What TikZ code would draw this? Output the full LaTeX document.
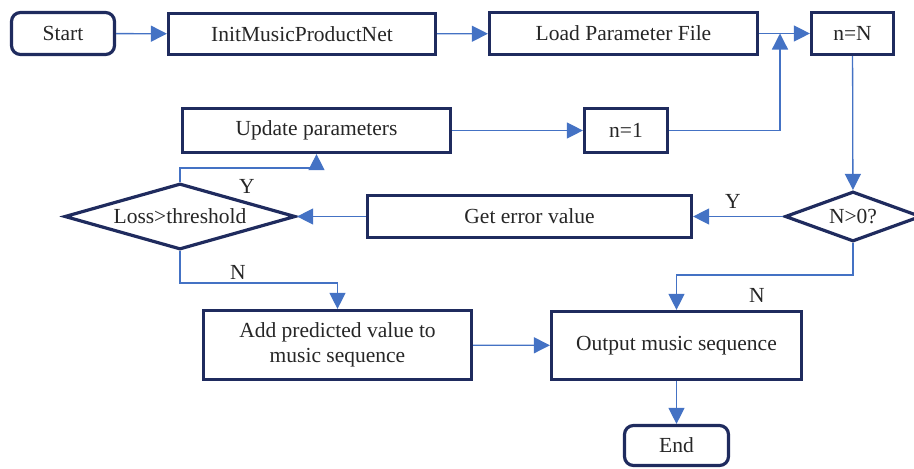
\documentclass[tikz,border=0pt]{standalone}
\usepackage{fontspec}
\setmainfont{Liberation Serif}
\usetikzlibrary{shapes.geometric,arrows.meta}
\definecolor{boxnavy}{HTML}{1F2B5E}
\definecolor{flowblue}{HTML}{4472C4}
\begin{document}
\begin{tikzpicture}[x=1pt,y=-1pt,
        font=\fontsize{21.5}{25}\selectfont,
        box/.style={draw=boxnavy,line width=3.2pt,inner sep=2pt,align=center,text=black!85},
        term/.style={box,rounded corners=9pt},
        decide/.style={diamond,draw=boxnavy,line width=3.2pt,inner sep=0pt,text=black!85},
        flow/.style={draw=flowblue,line width=1.3pt,-{Triangle[length=16pt,width=16pt]}},
        tag/.style={text=black!85}]
        \useasboundingbox (0,0) rectangle (914,469);
        % top row
        \node[term,minimum width=103pt,minimum height=42pt] (start) at (63,33.5) {Start};
        \node[box,minimum width=267pt,minimum height=41pt] (init) at (302,34) {InitMusicProductNet};
        \node[box,minimum width=268pt,minimum height=42pt] (load) at (623.5,33.5) {Load Parameter File};
        \node[box,minimum width=82pt,minimum height=42pt] (nN) at (852.5,33.5) {n=N};
        % loop row
        \node[box,minimum width=268pt,minimum height=44pt] (update) at (316.5,130.5) {Update parameters};
        \node[box,minimum width=83pt,minimum height=44pt] (n1) at (626,130.5) {n=1};
        % decisions
        \node[decide,aspect=3.5,minimum width=231pt,minimum height=66pt] (loss) at (180,216.5) {Loss>threshold};
        \node[box,minimum width=324pt,minimum height=42pt] (error) at (529.5,216.5) {Get error value};
        \node[decide,aspect=2.7,minimum width=136pt,minimum height=50pt] (npos) at (853,216.5) {N>0?};
        % bottom
        \node[box,minimum width=268pt,minimum height=69pt] (add) at (337.5,345) {Add predicted value to\\music sequence};
        \node[box,minimum width=250pt,minimum height=68pt] (output) at (676.5,345.5) {Output music sequence};
        \node[term,minimum width=104pt,minimum height=40pt] (end) at (676.5,445.5) {End};
        \coordinate (join) at (780,33.5);

        \draw[flow] (start) -- (init);
        \draw[flow] (init) -- (load);
        \draw[flow] (load) -- (nN);
        \draw[flow] (update) -- (n1);
        \draw[flow] (n1.east) -| (join);
        \draw[flow] (nN) -- (npos);
        \draw[flow] (npos) -- (error);
        \draw[flow] (error) -- (loss);
        \draw[flow] (loss.north) -- ++(0,-14) -| (update.south);
        \draw[flow] (loss.south) -- ++(0,32) -| (add.north);
        \draw[flow] (npos.south) -- ++(0,32) -| (output.north);
        \draw[flow] (add) -- (output);
        \draw[flow] (output) -- (end);

        \node[tag] (ly1) at (247,186) {Y};
        \node[tag] (ln1) at (238,272) {N};
        \node[tag] (ly2) at (733,201) {Y};
        \node[tag] (ln2) at (757,295) {N};
\end{tikzpicture}
\end{document}
